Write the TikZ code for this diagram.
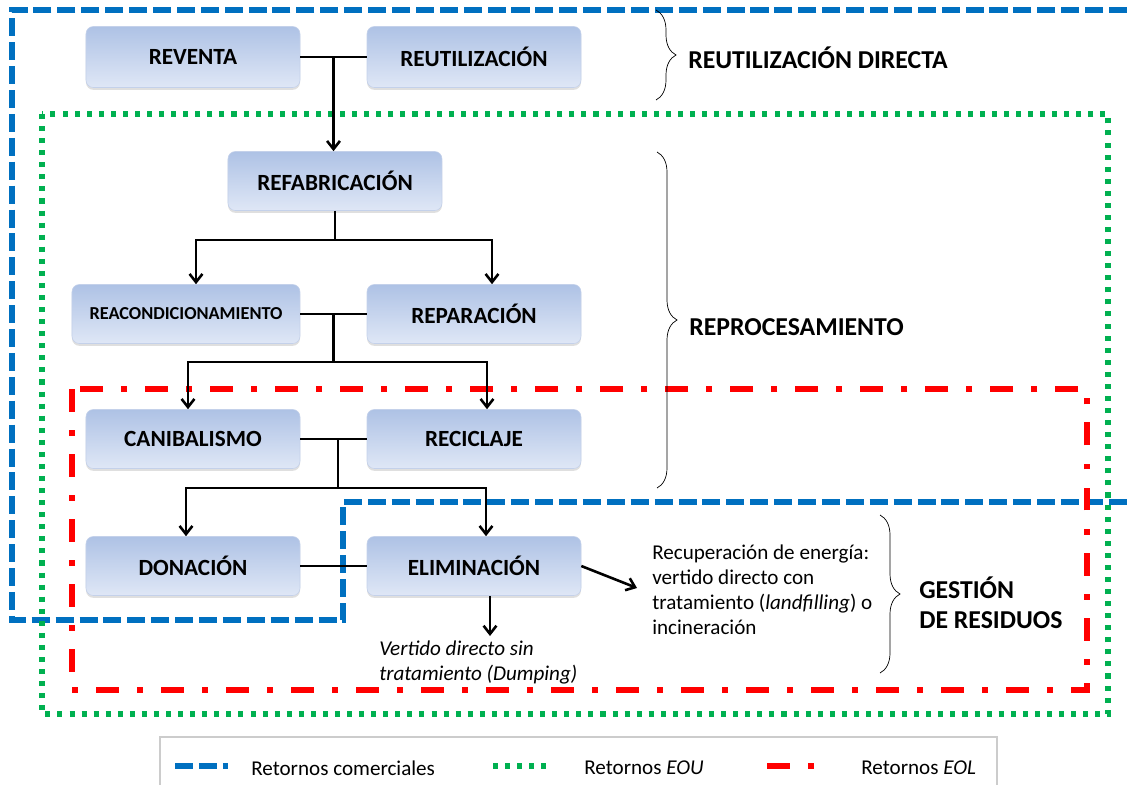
\documentclass[tikz,border=0pt]{standalone}
\usepackage{fontspec}
\setmainfont{Carlito}
\usepackage{tikz}
\usetikzlibrary{arrows.meta,shadows,backgrounds,decorations.pathreplacing,calc}
\definecolor{retblue}{HTML}{0070C0}
\definecolor{reteou}{HTML}{00B050}
\definecolor{reteol}{HTML}{FF0000}
\definecolor{boxtop}{HTML}{AEC2E5}
\definecolor{boxbot}{HTML}{DFE7F6}
\definecolor{boxedge}{HTML}{C4D1EA}
\tikzset{
	main node/.style={rectangle,rounded corners=0.22cm,top color=boxtop,bottom color=boxbot,draw=boxedge,line width=0.5pt,
		minimum width=6.42cm,minimum height=1.77cm,font=\fontsize{19.8}{22}\selectfont\bfseries,
		drop shadow={shadow xshift=0pt,shadow yshift=-2pt,opacity=0.25}},
	group label/.style={anchor=west,inner sep=0pt,font=\fontsize{22}{25.6}\selectfont\bfseries,align=left},
	note/.style={anchor=west,inner sep=0pt,font=\fontsize{18}{21.3}\selectfont,align=left},
	ret comercial/.style={-,draw=retblue,line width=4.3pt,dash pattern=on 15.4pt off 5pt},
	ret eou/.style={-,draw=reteou,line width=4.3pt,dash pattern=on 4.3pt off 6pt},
	ret eol/.style={-,draw=reteol,line width=5pt,dash pattern=on 19.6pt off 15.4pt on 5.1pt off 15.4pt},
	bracket/.style={-,decorate,decoration={brace,amplitude=0.6cm},line width=0.6pt}
}

\begin{document}
\begin{tikzpicture}[->,>={Straight Barb[length=7pt,width=11pt]},x=0.03cm,y=-0.03cm,line width=2.2pt]
\useasboundingbox (0,0) rectangle (1127,784);

\node [main node,minimum height=1.83cm] (reventa) at (193,57) {REVENTA};
\node [main node,minimum height=1.83cm] (reutil) at (474,57) {REUTILIZACIÓN};
\node [main node] (refab) at (335,181) {REFABRICACIÓN};
\node [main node,minimum width=6.84cm,font=\fontsize{15.6}{17}\selectfont\bfseries] (reacond) at (186,314) {REACONDICIONAMIENTO};
\node [main node] (repar) at (474,314) {REPARACIÓN};
\node [main node] (canib) at (193,439) {CANIBALISMO};
\node [main node] (recic) at (474,439) {RECICLAJE};
\node [main node] (donac) at (193,566) {DONACIÓN};
\node [main node] (elim) at (474,566) {ELIMINACIÓN};

\coordinate (j1) at ($(reventa.east)!0.5!(reutil.west)$);
\coordinate (j2) at ($(reacond.east)!0.5!(repar.west)$);
\coordinate (j3) at (338,439);
\coordinate (b1) at (335,240);
\coordinate (b1l) at (196,240);
\coordinate (b1r) at (492,240);
\coordinate (b2) at (j2 |- 0,362);
\coordinate (b2l) at (188,362);
\coordinate (b2r) at (487,362);
\coordinate (b3) at (338,488);
\coordinate (b3l) at (186,488);
\coordinate (b3r) at (486,488);
\coordinate (dump) at (490,636);
\coordinate (recup) at (637,588);

\draw[-] (reventa) -- (reutil);
\draw (j1) -- (j1 |- refab.north);
\draw[-] (refab) -- (b1);
\draw[<->] (b1l |- reacond.north) -- (b1l) -- (b1r) -- (b1r |- repar.north);
\draw[-] (reacond) -- (repar);
\draw[-] (j2) -- (b2);
\draw[<->] (b2l |- canib.north) -- (b2l) -- (b2r) -- (b2r |- recic.north);
\draw[-] (canib) -- (recic);
\draw[-] (j3) -- (b3);
\draw[<->] (b3l |- donac.north) -- (b3l) -- (b3r) -- (b3r |- elim.north);
\draw[-,line width=1.7pt] (donac) -- (elim);
\draw (dump |- elim.south) -- (dump);
\draw (elim.east) -- (recup);

\node [note,font=\fontsize{18}{21.3}\selectfont\itshape] (dumping) at (378,662) {Vertido directo sin\\tratamiento (Dumping)};
\node [note] (energia) at (651,590) {Recuperación de energía:\\vertido directo con\\tratamiento (\textit{landfilling}) o\\incineración};

\draw[bracket] (656,10) -- (656,100);
\draw[bracket] (657,152) -- (657,488);
\draw[bracket] (880,515) -- (880,673);
\node [group label] (directa) at (687,58) {REUTILIZACIÓN DIRECTA};
\node [group label] (reproc) at (688,327) {REPROCESAMIENTO};
\node [group label] (gestion) at (918,603) {GESTIÓN\\DE RESIDUOS};

\begin{scope}[on background layer]
\draw[ret comercial] (1127,10) -- (12,10) -- (12,620) -- (343,620) -- (343,502) -- (1127,502);
\draw[ret eou] (42,114) rectangle (1108,714);
\draw[ret eol] (72,389) rectangle (1087,690);
\end{scope}

\draw[-,draw=black!20,line width=1pt] (160,737) rectangle (997,800);
\draw[ret comercial] (175,766) -- (228,766);
\draw[ret eou] (493,766) -- (546,766);
\draw[ret eol] (767,766) -- (816,766);
\node [note] (leg1) at (250,768) {Retornos comerciales};
\node [note] (leg2) at (583,768) {Retornos \textit{EOU}};
\node [note] (leg3) at (860,768) {Retornos \textit{EOL}};
\end{tikzpicture}
\end{document}
